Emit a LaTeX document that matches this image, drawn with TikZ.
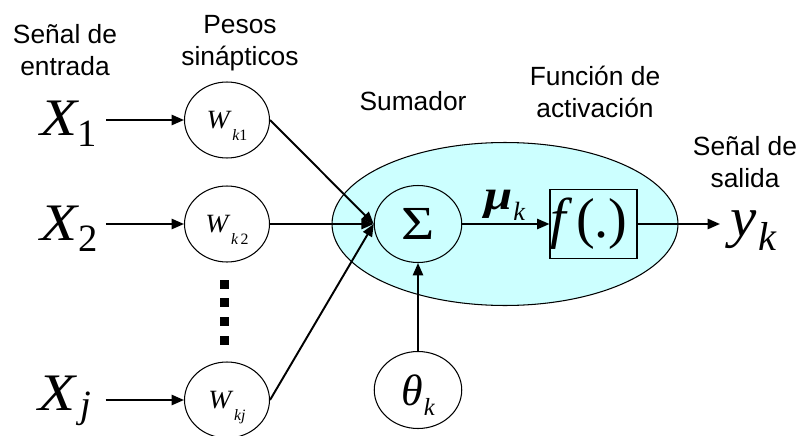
\documentclass[tikz,border=0pt]{standalone}
\usepackage{fontspec}
\setmainfont{Liberation Sans}
\newfontfamily\tms{Liberation Serif}
\usetikzlibrary{arrows.meta,shapes.geometric,calc}
\definecolor{cyanfill}{HTML}{CCFFFF}
% #1 main size, #2 main text, #3 sub size, #4 drop, #5 kern, #6 sub text, #7 horizontal scale of main text
\newcommand\symb[7]{{\tms\itshape\fontsize{#1}{#1}\selectfont\scalebox{#7}[1]{#2}\kern#5\smash{\raisebox{-#4}{\fontsize{#3}{#3}\selectfont #6}}}}
\begin{document}
\begin{tikzpicture}[x=0.02cm,y=-0.02cm,
  lbl/.style={inner sep=0pt, anchor=base, font=\fontsize{15}{18.5}\selectfont},
  wnode/.style={ellipse, draw, line width=0.6pt, fill=white, minimum width=1.7cm, minimum height=1.52cm, inner sep=0pt},
  cnode/.style={ellipse, draw, line width=0.6pt, minimum width=1.75cm, minimum height=1.54cm, inner sep=0pt},
  arr/.style={-{Triangle[length=7pt,width=5.8pt]}, line width=1.1pt},
  sym/.style={inner sep=0pt, anchor=base west}]
\useasboundingbox (0,0) rectangle (805,436);
% body
\node[ellipse, draw, line width=0.6pt, fill=cyanfill, minimum width=6.92cm, minimum height=3.26cm] (body) at (505,224) {};
% labels
\node[lbl] (lin) at (65,43) {\begin{tabular}[t]{@{}c@{}}Señal de\\entrada\end{tabular}};
\node[lbl] (lw) at (240,33) {\begin{tabular}[t]{@{}c@{}}Pesos\\sinápticos\end{tabular}};
\node[lbl] (lsum) at (413,110) {Sumador};
\node[lbl] (lact) at (595,85) {\begin{tabular}[t]{@{}c@{}}Función de\\activación\end{tabular}};
\node[lbl] (lout) at (745,155) {\begin{tabular}[t]{@{}c@{}}Señal de\\salida\end{tabular}};
% inputs
\node[sym] (X1) at (40,135) {\symb{30pt}{X}{22pt}{6.8pt}{0pt}{\upshape 1}{1.15}};
\node[sym] (X2) at (40,240) {\symb{30pt}{X}{22pt}{6.8pt}{0.5pt}{\upshape 2}{1.15}};
\node[sym] (Xj) at (38,410) {\symb{30pt}{X}{22pt}{4.5pt}{3pt}{j}{1.15}};
% weights
\node[wnode] (W1) at (227,120) {\symb{15pt}{W}{9pt}{6.8pt}{1.5pt}{k\upshape 1}{1.05}};
\node[wnode] (W2) at (227,224) {\symb{15pt}{W}{9pt}{6.8pt}{1.5pt}{k\kern1.5pt\upshape 2}{1.05}};
\node[wnode] (Wj) at (227,400) {\symb{15pt}{W}{9pt}{6.8pt}{1.5pt}{kj}{1.05}};
\foreach \yy in {284,302,321,340} \fill (219.5,\yy-4.5) rectangle ++(9,9);
% summation, activation, bias
\node[cnode] (S) at (418,224) {\tms\fontsize{27pt}{27pt}\selectfont\scalebox{1.2}[1]{Σ}};
\node[draw, line width=0.6pt, minimum width=1.74cm, minimum height=1.38cm, inner sep=0pt] (F) at (593.5,224) {\tms\fontsize{32pt}{32pt}\selectfont\textit{f}\kern2pt(.)\kern5pt};
\node[cnode, fill=white] (T) at (418,390) {\symb{25pt}{θ}{14pt}{5.7pt}{0.5pt}{k}{1}};
\node[sym] (mu) at (484,209) {\symb{24pt}{\bfseries μ}{15pt}{6.3pt}{0.5pt}{k}{1.2}};
\node[sym] (Y) at (730,236) {\symb{32pt}{y}{23pt}{8pt}{1pt}{k}{1.05}};
% connectors
\draw[arr] ($(X1.east |- W1.west)+(9,0)$) -- (W1.west);
\draw[arr] ($(X2.east |- W2.west)+(8,0)$) -- (W2.west);
\draw[arr] ($(Xj.east |- Wj.west)+(14,0)$) -- (Wj.west);
\draw[arr] (W1.east) -- (S.west);
\draw[arr] (W2.east) -- (S.west);
\draw[arr] (Wj.east) -- (S.west);
\draw[arr] (S.east) -- (F.west);
\draw[arr] (F.east) -- ($(Y.west |- F.east)+(-10,0)$);
\draw[arr] (T.north) -- (S.south);
\end{tikzpicture}
\end{document}
